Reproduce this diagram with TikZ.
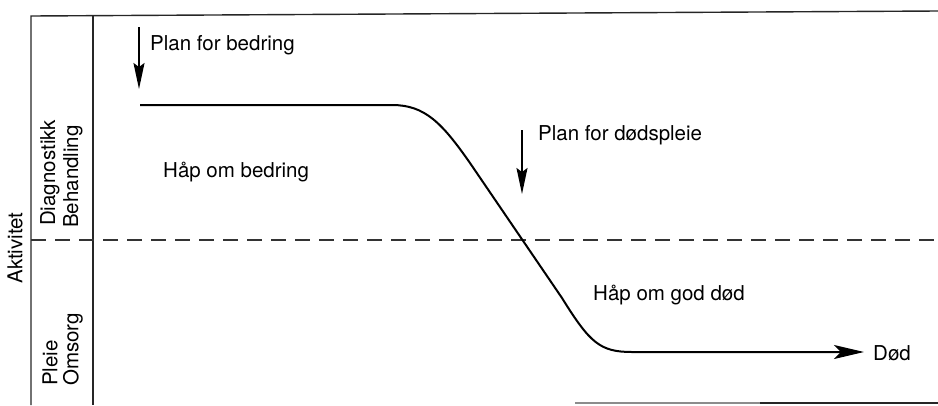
\documentclass[tikz,border=0pt]{standalone}
\usepackage{fontspec}
\setmainfont{TeX Gyre Heros}
\usetikzlibrary{arrows.meta}
\begin{document}
\begin{tikzpicture}[x=1pt,y=-1pt,
  frame/.style={line width=1.4pt,black!85},
  lbl/.style={inner sep=0pt,font=\fontsize{20.5}{24}\selectfont},
  downarrow/.style={line width=1.6pt,-{Stealth[length=26pt,width=11pt,inset=4pt]}},
  curve/.style={line width=2pt}]
\useasboundingbox (0,0) rectangle (938,405);
% frame
\coordinate (tl) at (31,16);
\coordinate (tr) at (938,11);
\coordinate (bl) at (31,405);
\coordinate (t2) at (93,16);
\coordinate (b2) at (93,405);
\draw[frame] (bl) -- (tl) -- (tr);
\draw[frame] (t2) -- (b2);
\coordinate (bs) at (575,403);
\coordinate (bm) at (760,403);
\coordinate (be) at (938,403);
\draw[line width=1.2pt,black!45] (bs) -- (bm);
\draw[frame] (bm) -- (be);
% dashed divider
\coordinate (dl) at (31,240);
\coordinate (dr) at (938,240);
\draw[line width=1.1pt,black!80,dash pattern=on 15pt off 9pt] (dl) -- (dr);
% axis labels
\node[lbl,rotate=90] (akt) at (15,248) {Aktivitet};
\node[lbl,rotate=90,anchor=west] (diag) at (50,226) {Diagnostikk};
\node[lbl,rotate=90,anchor=west] (beh) at (73,228) {Behandling};
\node[lbl,rotate=90,anchor=west] (pleie) at (50,386) {Pleie};
\node[lbl,rotate=90,anchor=west] (oms) at (73,386) {Omsorg};
% texts
\node[lbl,anchor=west] (pfb) at (150,45) {Plan for bedring};
\node[lbl,anchor=west] (pfd) at (538,135) {Plan for dødspleie};
\node[lbl,anchor=west] (hob) at (163,172) {Håp om bedring};
\node[lbl,anchor=west] (hog) at (593,295) {Håp om god død};
\node[lbl,anchor=west] (dod) at (873,353) {Død};
% arrows
\coordinate (a1s) at (139,27);
\coordinate (a1e) at (139,89);
\draw[downarrow] (a1s) -- (a1e);
\coordinate (a2s) at (522,130);
\coordinate (a2e) at (522,194);
\draw[downarrow] (a2s) -- (a2e);
% curve
\coordinate (c0) at (140,105);
\coordinate (c1) at (392,105);
\coordinate (c2) at (470,163);
\coordinate (c3) at (562,298);
\coordinate (c4) at (632,352);
\coordinate (c5) at (864,352);
\draw[curve,-{Stealth[length=30pt,width=14pt,inset=7pt]}]
  (c0) -- (c1) .. controls (425,105) and (442,123) .. (c2)
  -- (c3) .. controls (590,343) and (600,352) .. (c4) -- (c5);
\end{tikzpicture}
\end{document}
